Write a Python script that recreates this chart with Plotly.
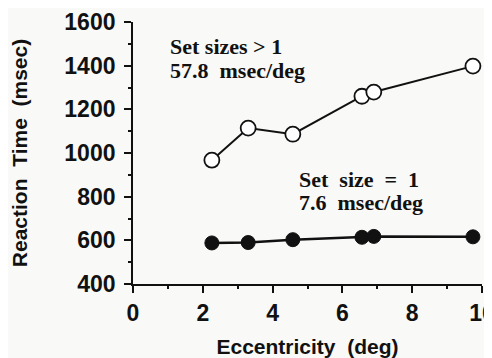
import plotly.graph_objects as go

eccentricity = [2.26, 3.3, 4.58, 6.56, 6.9, 9.74]
rt_set_sizes_gt1 = [967, 1114, 1086, 1260, 1279, 1398]
rt_set_size_1 = [588, 590, 603, 614, 618, 616]

x_ticks = [0, 2, 4, 6, 8, 10]
y_ticks = [400, 600, 800, 1000, 1200, 1400, 1600]

fig = go.Figure()
fig.add_trace(go.Scatter(
    x=eccentricity, y=rt_set_sizes_gt1, mode="lines+markers",
    line=dict(color="#111", width=2),
    marker=dict(symbol="circle", size=15, color="white", line=dict(color="#111", width=1.8)),
    showlegend=False, cliponaxis=False))
fig.add_trace(go.Scatter(
    x=eccentricity, y=rt_set_size_1, mode="lines+markers",
    line=dict(color="#111", width=2.5),
    marker=dict(symbol="circle", size=14, color="#111", line=dict(color="#111", width=1)),
    showlegend=False, cliponaxis=False))

tickfont = dict(family="Liberation Sans, Arial, sans-serif", size=23, color="#111", weight="bold")
titlefont = dict(family="Liberation Sans, Arial, sans-serif", size=21, color="#111", weight="bold")
annfont = dict(family="Liberation Serif, Times New Roman, serif", size=22, color="#111", weight="bold")

fig.update_xaxes(range=[0, 10], tickvals=x_ticks, ticks="outside", ticklen=7, tickwidth=1.5,
                 showline=True, linecolor="#111", linewidth=1.8, showgrid=False, zeroline=False,
                 tickfont=tickfont, tickcolor="#111", automargin=False, ticklabeloverflow="allow",
                 minor=dict(dtick=1, ticks="outside", ticklen=3, tickcolor="#111", tickwidth=1.5),
                 title=dict(text="\u00a0\u00a0Eccentricity\u00a0\u00a0(deg)", font=titlefont, standoff=17))
fig.update_yaxes(range=[400, 1600], tickvals=y_ticks, ticks="outside", ticklen=7, tickwidth=1.5,
                 showline=True, linecolor="#111", linewidth=1.8, showgrid=False, zeroline=False,
                 tickfont=tickfont, tickcolor="#111", automargin=False, ticklabeloverflow="allow",
                 ticklabelstandoff=4,
                 minor=dict(dtick=100, ticks="outside", ticklen=3, tickcolor="#111", tickwidth=1.5),
                 title=dict(text="Reaction\u00a0\u00a0Time\u00a0\u00a0(msec)", font=titlefont, standoff=33))

anns = [
    (1.0, 1487, "Set sizes > 1"),
    (1.0, 1377, "57.8\u00a0\u00a0msec/deg"),
    (4.7, 877, "Set\u00a0\u00a0size\u00a0\u00a0=\u00a0\u00a01"),
    (4.7, 772, "7.6\u00a0\u00a0msec/deg"),
]
for ax_, ay_, t in anns:
    fig.add_annotation(x=ax_, y=ay_, text=t, showarrow=False, xanchor="left", yanchor="middle", font=annfont)

# page body has an 8px margin, so the figure is 8px smaller and margins are shifted
fig.update_layout(width=484, height=350, margin=dict(l=125, r=10, t=14, b=74),
                  plot_bgcolor="#f9f9f7", paper_bgcolor="#f9f9f7")
fig.write_html("out.html")
